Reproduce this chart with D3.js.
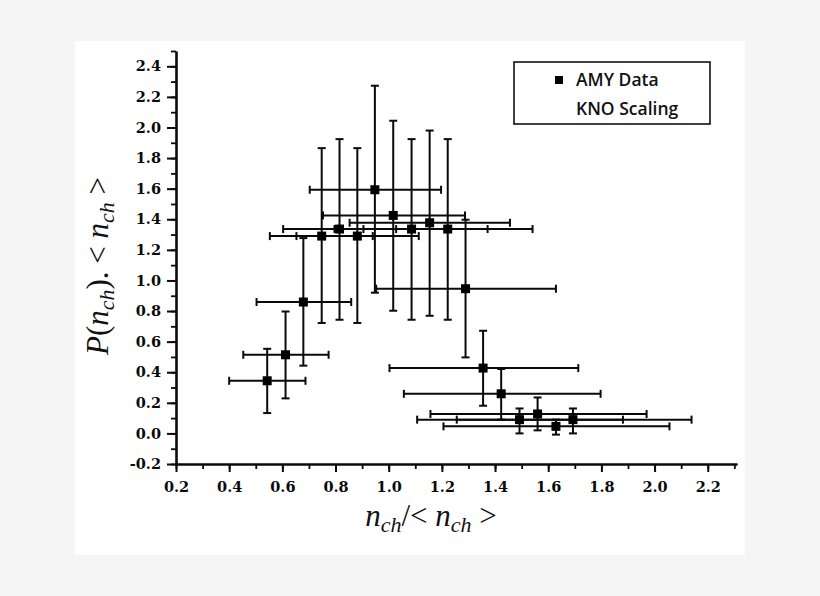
<!DOCTYPE html>
<html>
<head>
<meta charset="utf-8">
<script src="https://cdn.jsdelivr.net/npm/d3@7"></script>
<style>
  body { margin: 0; background: #f5f5f5; }
  svg { display: block; }
  .tick text { font-family: "DejaVu Serif", serif; font-weight: bold; font-size: 14.5px; fill: #0a0a0a; }
  .axis path, .axis line { stroke: #0a0a0a; }
</style>
</head>
<body>
<svg class="chart"></svg>
<script>
var width = 820, height = 596;

// AMY data
var xVal  = [0.543, 0.612, 0.679, 0.748, 0.815, 0.882, 0.948, 1.017, 1.086, 1.154, 1.222, 1.289, 1.355, 1.423, 1.492, 1.560, 1.629, 1.693];
var yVal  = [0.344, 0.514, 0.859, 1.290, 1.336, 1.290, 1.593, 1.425, 1.336, 1.377, 1.336, 0.946, 0.427, 0.259, 0.090, 0.127, 0.046, 0.090];
var xLow  = [0.400, 0.453, 0.503, 0.553, 0.603, 0.653, 0.703, 0.753, 0.796, 0.853, 0.905, 0.953, 1.003, 1.057, 1.107, 1.157, 1.206, 1.256];
var xHigh = [0.687, 0.774, 0.859, 0.940, 1.028, 1.113, 1.197, 1.287, 1.372, 1.456, 1.541, 1.629, 1.713, 1.797, 1.881, 1.970, 2.056, 2.139];
var yLow  = [0.133, 0.229, 0.443, 0.722, 0.743, 0.722, 0.920, 0.802, 0.743, 0.769, 0.743, 0.497, 0.181, 0.090, 0.000, 0.020, -0.008, 0.000];
var yHigh = [0.553, 0.797, 1.277, 1.865, 1.924, 1.865, 2.273, 2.044, 1.924, 1.980, 1.924, 1.397, 0.671, 0.421, 0.163, 0.235, 0.090, 0.163];

var xTicks = [0.2, 0.4, 0.6, 0.8, 1.0, 1.2, 1.4, 1.6, 1.8, 2.0, 2.2];
var yTicks = [-0.2, 0.0, 0.2, 0.4, 0.6, 0.8, 1.0, 1.2, 1.4, 1.6, 1.8, 2.0, 2.2, 2.4];
var legendLabels = ["AMY Data", "KNO Scaling"];

var data = xVal.map(function(d, i) {
    return { x: d, y: yVal[i], x0: xLow[i], x1: xHigh[i], y0: yLow[i], y1: yHigh[i] };
});

var svg = d3.select(".chart").attr("width", width).attr("height", height);

// white panel
svg.append("rect").attr("x", 75).attr("y", 41).attr("width", 670).attr("height", 514).attr("fill", "#fff");

var x = d3.scaleLinear().domain([0.2, 2.31]).range([176, 737]);
var y = d3.scaleLinear().domain([-0.2, 2.5]).range([464, 51]);

var fmt = function(d) { return d.toFixed(1); };

// minor ticks
svg.append("g").attr("class", "axis")
    .attr("transform", "translate(0," + y(-0.2) + ")")
    .call(d3.axisBottom(x).tickValues(d3.range(0.2, 2.35, 0.1)).tickSize(5).tickSizeOuter(0).tickFormat(""))
    .selectAll("line").attr("stroke-width", 1.8);
svg.append("g").attr("class", "axis")
    .attr("transform", "translate(" + x(0.2) + ",0)")
    .call(d3.axisLeft(y).tickValues(d3.range(-0.2, 2.55, 0.1)).tickSize(5).tickSizeOuter(0).tickFormat(""))
    .selectAll("line").attr("stroke-width", 1.8);

// major ticks + labels
var xAxis = svg.append("g").attr("class", "axis")
    .attr("transform", "translate(0," + y(-0.2) + ")")
    .call(d3.axisBottom(x).tickValues(xTicks).tickSize(8).tickSizeOuter(0).tickPadding(10).tickFormat(fmt));
xAxis.select(".domain").attr("stroke-width", 2.6);
xAxis.selectAll("line").attr("stroke-width", 2);

var yAxis = svg.append("g").attr("class", "axis")
    .attr("transform", "translate(" + x(0.2) + ",0)")
    .call(d3.axisLeft(y).tickValues(yTicks).tickSize(9).tickSizeOuter(0).tickPadding(6).tickFormat(fmt));
yAxis.select(".domain").attr("stroke-width", 2.6);
yAxis.selectAll("line").attr("stroke-width", 2);

// error bars
var cap = 4;
var g = svg.append("g").attr("stroke", "#0a0a0a").attr("stroke-width", 2);
var pt = g.selectAll("g").data(data).enter().append("g");

pt.append("line")
    .attr("x1", function(d) { return x(d.x0); }).attr("x2", function(d) { return x(d.x1); })
    .attr("y1", function(d) { return y(d.y); }).attr("y2", function(d) { return y(d.y); });
pt.append("line")
    .attr("x1", function(d) { return x(d.x); }).attr("x2", function(d) { return x(d.x); })
    .attr("y1", function(d) { return y(d.y0); }).attr("y2", function(d) { return y(d.y1); });
["x0", "x1"].forEach(function(k) {
    pt.append("line")
        .attr("x1", function(d) { return x(d[k]); }).attr("x2", function(d) { return x(d[k]); })
        .attr("y1", function(d) { return y(d.y) - cap; }).attr("y2", function(d) { return y(d.y) + cap; });
});
["y0", "y1"].forEach(function(k) {
    pt.append("line")
        .attr("x1", function(d) { return x(d.x) - cap; }).attr("x2", function(d) { return x(d.x) + cap; })
        .attr("y1", function(d) { return y(d[k]); }).attr("y2", function(d) { return y(d[k]); });
});

// squares
svg.selectAll("rect.pt").data(data).enter().append("rect")
    .attr("class", "pt")
    .attr("x", function(d) { return x(d.x) - 4.5; })
    .attr("y", function(d) { return y(d.y) - 4.5; })
    .attr("width", 9).attr("height", 9)
    .attr("fill", "#000");

// axis titles
function addTitle(t, parts) {
    parts.forEach(function(p) {
        var s = t.append("tspan").text(p[0]);
        if (p[1]) s.style("font-style", "italic");
        if (p[2]) s.style("font-size", "22px");
        if (p[3]) s.attr("dy", p[3]);
    });
}
var xt = svg.append("text")
    .attr("x", 431).attr("y", 526)
    .attr("text-anchor", "middle")
    .style("font-family", "Liberation Serif, serif").style("font-size", "31px").attr("fill", "#111");
addTitle(xt, [["n", 1], ["ch", 1, 1, 6], ["/< ", 0, 0, -6], ["n", 1], ["ch", 1, 1, 6], [" >", 0, 0, -6]]);

var yt = svg.append("text")
    .attr("transform", "translate(108,266) rotate(-90)")
    .attr("text-anchor", "middle")
    .style("font-family", "Liberation Serif, serif").style("font-size", "31px").attr("fill", "#111");
addTitle(yt, [["P", 1], ["("], ["n", 1], ["ch", 1, 1, 6], ["). < ", 0, 0, -6], ["n", 1], ["ch", 1, 1, 6], [" >", 0, 0, -6]]);

// legend
var lg = svg.append("g");
lg.append("rect").attr("x", 514).attr("y", 62).attr("width", 196).attr("height", 62)
    .attr("fill", "#fff").attr("stroke", "#111").attr("stroke-width", 1.6);
lg.append("rect").attr("x", 555).attr("y", 76).attr("width", 8).attr("height", 8).attr("fill", "#000");
lg.selectAll("text.lg").data(legendLabels).enter().append("text")
    .attr("class", "lg")
    .attr("x", 576)
    .attr("y", function(d, i) { return 86 + i * 29; })
    .style("font-family", "Open Sans, sans-serif").style("font-size", "17.5px").style("font-weight", 600)
    .attr("fill", "#111")
    .text(function(d) { return d; });
</script>
</body>
</html>
